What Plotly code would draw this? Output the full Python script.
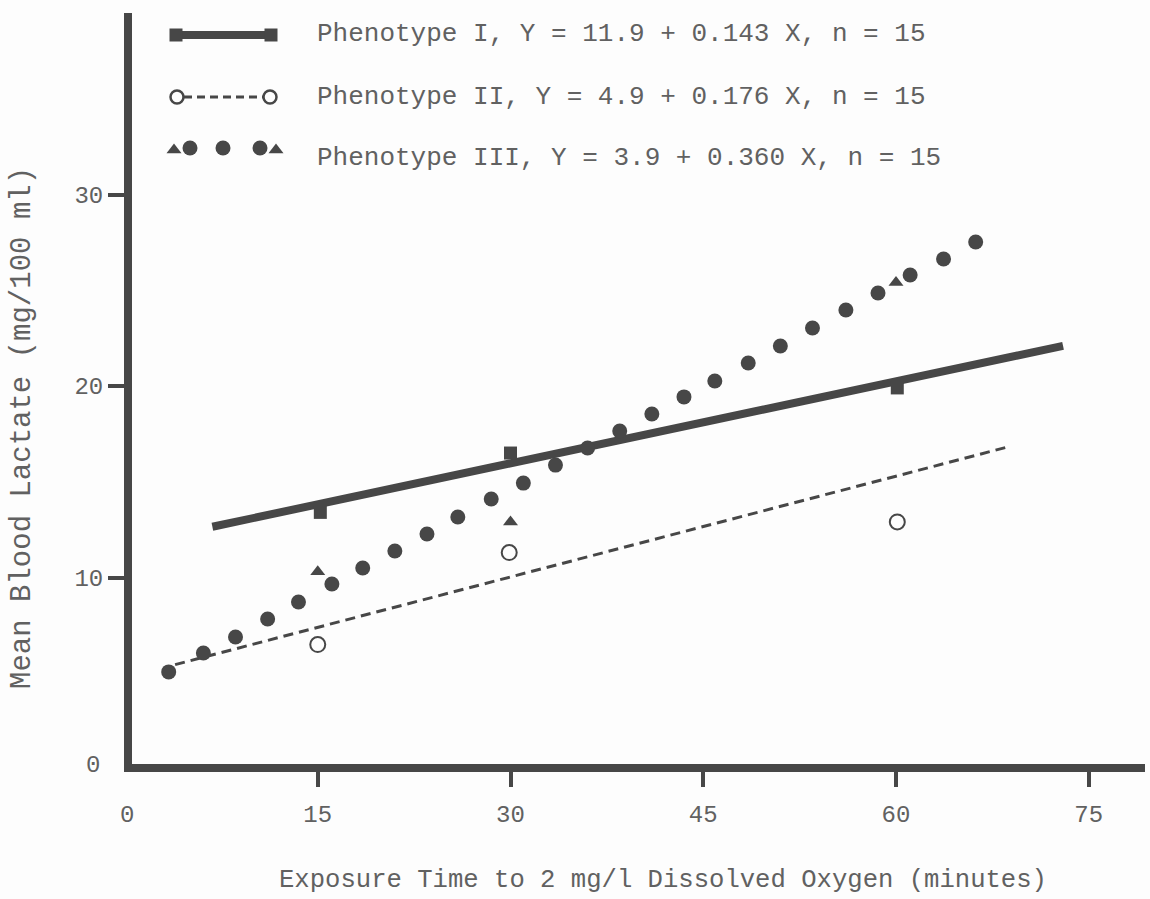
import plotly.graph_objects as go

# ---------------- data ----------------
# Phenotype I: observed means (squares) and fitted line Y = 11.9 + 0.143 X
p1_x = [15.2, 30.0, 60.1]
p1_y = [13.4, 16.5, 19.9]
p1_line_x = [6.8, 73.0]
p1_line_y = [12.65, 22.1]

# Phenotype II: observed means (open circles) and fitted line Y = 4.9 + 0.176 X
p2_x = [15.0, 29.9, 60.1]
p2_y = [6.5, 11.3, 12.9]
p2_line_x = [3.9, 68.6]
p2_line_y = [5.45, 16.8]

# Phenotype III: observed means (triangles) and fitted line drawn as dots, Y = 3.9 + 0.360 X
p3_x = [15.0, 30.0, 60.0]
p3_y = [10.3, 12.9, 25.4]
p3_dot_x = [3.4, 6.1, 8.6, 11.1, 13.5, 16.1, 18.5, 21.0, 23.5, 25.9, 28.5, 31.0, 33.5,
            36.0, 38.5, 41.0, 43.5, 45.9, 48.5, 51.0, 53.5, 56.1, 58.6, 61.1, 63.7, 66.2]
p3_dot_y = [5.07, 6.06, 6.89, 7.83, 8.72, 9.66, 10.50, 11.38, 12.27, 13.16, 14.10, 14.93, 15.87,
            16.76, 17.65, 18.54, 19.43, 20.26, 21.20, 22.09, 23.03, 23.97, 24.86, 25.80, 26.63, 27.52]

x_ticks = [15, 30, 45, 60, 75]
y_ticks = [10, 20, 30]

legend_labels = [
    "Phenotype I, Y = 11.9 + 0.143 X, n = 15",
    "Phenotype II, Y = 4.9 + 0.176 X, n = 15",
    "Phenotype III, Y = 3.9 + 0.360 X, n = 15",
]

x_title = "Exposure Time to 2 mg/l Dissolved Oxygen (minutes)"
y_title = "Mean Blood Lactate (mg/100 ml)"

# ---------------- styling ----------------
INK = "#474747"
TXT = "#616161"
FONT = "Liberation Mono"
W, H = 1150, 899
L, R, T, B = 132, 5, 13, 135
PW, PH = W - L - R, H - T - B

X0_PX, X_SCALE = 125, 12.85   # pixel of x=0, pixels per minute
Y0_PX, Y_SCALE = 769, 19.15   # pixel of y=0, pixels per unit


def px_to_paper_x(px):
    return (px - L) / PW


def px_to_paper_y(py):
    return (H - B - py) / PH


x_range = [(L - X0_PX) / X_SCALE, (W - R - X0_PX) / X_SCALE]
y_range = [(Y0_PX - (H - B)) / Y_SCALE, (Y0_PX - T) / Y_SCALE]

fig = go.Figure()

# fitted lines
fig.add_trace(go.Scatter(x=p1_line_x, y=p1_line_y, mode="lines",
                         line=dict(color=INK, width=8), hoverinfo="skip"))
fig.add_trace(go.Scatter(x=p2_line_x, y=p2_line_y, mode="lines",
                         line=dict(color=INK, width=3, dash="10px,6px"), hoverinfo="skip"))
fig.add_trace(go.Scatter(x=p3_dot_x, y=p3_dot_y, mode="markers",
                         marker=dict(symbol="circle", size=15, color=INK)))
# observed means
fig.add_trace(go.Scatter(x=p1_x, y=p1_y, mode="markers",
                         marker=dict(symbol="square", size=13, color=INK)))
fig.add_trace(go.Scatter(x=p2_x, y=p2_y, mode="markers",
                         marker=dict(symbol="circle-open", size=15, color=INK,
                                     line=dict(width=2, color=INK))))
fig.add_trace(go.Scatter(x=p3_x, y=p3_y, mode="markers",
                         marker=dict(symbol="triangle-up", size=13, color=INK)))

# ---------------- legend (drawn on a hidden overlay axis in pixel units) ----------------
leg_sym_y = [35, 97, 148]
leg_txt_y = [34, 97, 158]
fig.add_trace(go.Scatter(x=[182, 265], y=[leg_sym_y[0]] * 2, mode="lines",
                         line=dict(color=INK, width=8), xaxis="x2", yaxis="y2"))
fig.add_trace(go.Scatter(x=[176, 271], y=[leg_sym_y[0]] * 2, mode="markers",
                         marker=dict(symbol="square", size=13, color=INK),
                         xaxis="x2", yaxis="y2"))
fig.add_trace(go.Scatter(x=[184, 263], y=[leg_sym_y[1]] * 2, mode="lines",
                         line=dict(color=INK, width=3, dash="8px,5px"), xaxis="x2", yaxis="y2"))
fig.add_trace(go.Scatter(x=[177, 270], y=[leg_sym_y[1]] * 2, mode="markers",
                         marker=dict(symbol="circle-open", size=13, color=INK,
                                     line=dict(width=2.5, color=INK)),
                         xaxis="x2", yaxis="y2"))
fig.add_trace(go.Scatter(x=[190, 223, 260], y=[leg_sym_y[2]] * 3, mode="markers",
                         marker=dict(symbol="circle", size=15, color=INK),
                         xaxis="x2", yaxis="y2"))
fig.add_trace(go.Scatter(x=[174, 276], y=[leg_sym_y[2] + 2] * 2, mode="markers",
                         marker=dict(symbol="triangle-up", size=13, color=INK),
                         xaxis="x2", yaxis="y2"))

annotations = []
for lab, ty in zip(legend_labels, leg_txt_y):
    annotations.append(dict(text=lab, x=315, y=ty, xref="x2", yref="y2",
                            xanchor="left", yanchor="middle", showarrow=False,
                            font=dict(family=FONT, size=26, color=TXT)))

# axis titles and zero labels
annotations.append(dict(text=x_title, x=px_to_paper_x(663), y=px_to_paper_y(880),
                        xref="paper", yref="paper", xanchor="center", yanchor="middle",
                        showarrow=False, font=dict(family=FONT, size=25.6, color=TXT)))
annotations.append(dict(text=y_title, x=px_to_paper_x(22), y=px_to_paper_y(428),
                        xref="paper", yref="paper", xanchor="center", yanchor="middle",
                        textangle=-90, showarrow=False,
                        font=dict(family=FONT, size=29, color=TXT)))
annotations.append(dict(text="0", x=px_to_paper_x(127), y=px_to_paper_y(815),
                        xref="paper", yref="paper", xanchor="center", yanchor="middle",
                        showarrow=False, font=dict(family=FONT, size=24, color=TXT)))
annotations.append(dict(text="0", x=px_to_paper_x(102), y=px_to_paper_y(765),
                        xref="paper", yref="paper", xanchor="right", yanchor="middle",
                        showarrow=False, font=dict(family=FONT, size=24, color=TXT)))

fig.update_layout(
    width=W, height=H,
    margin=dict(l=L, r=R, t=T, b=B, pad=0),
    paper_bgcolor="#fdfdfd", plot_bgcolor="#fdfdfd",
    showlegend=False,
    font=dict(family=FONT, size=24, color=TXT),
    annotations=annotations,
    xaxis=dict(range=x_range, tickvals=x_ticks, showgrid=False, zeroline=False,
               showline=True, linecolor=INK, linewidth=8,
               ticks="outside", ticklen=15, tickwidth=4, tickcolor=INK,
               tickfont=dict(family=FONT, size=24, color=TXT), ticklabelstandoff=6),
    yaxis=dict(range=y_range, tickvals=y_ticks, showgrid=False, zeroline=False,
               showline=True, linecolor=INK, linewidth=8,
               ticks="outside", ticklen=16, tickwidth=4, tickcolor=INK,
               tickfont=dict(family=FONT, size=24, color=TXT)),
    xaxis2=dict(range=[L, W - R], domain=[0, 1], overlaying="x", visible=False,
                anchor="y2", fixedrange=True),
    yaxis2=dict(range=[H - B, T], domain=[0, 1], overlaying="y", visible=False,
                anchor="x2", fixedrange=True),
)

fig.write_html("out.html")
